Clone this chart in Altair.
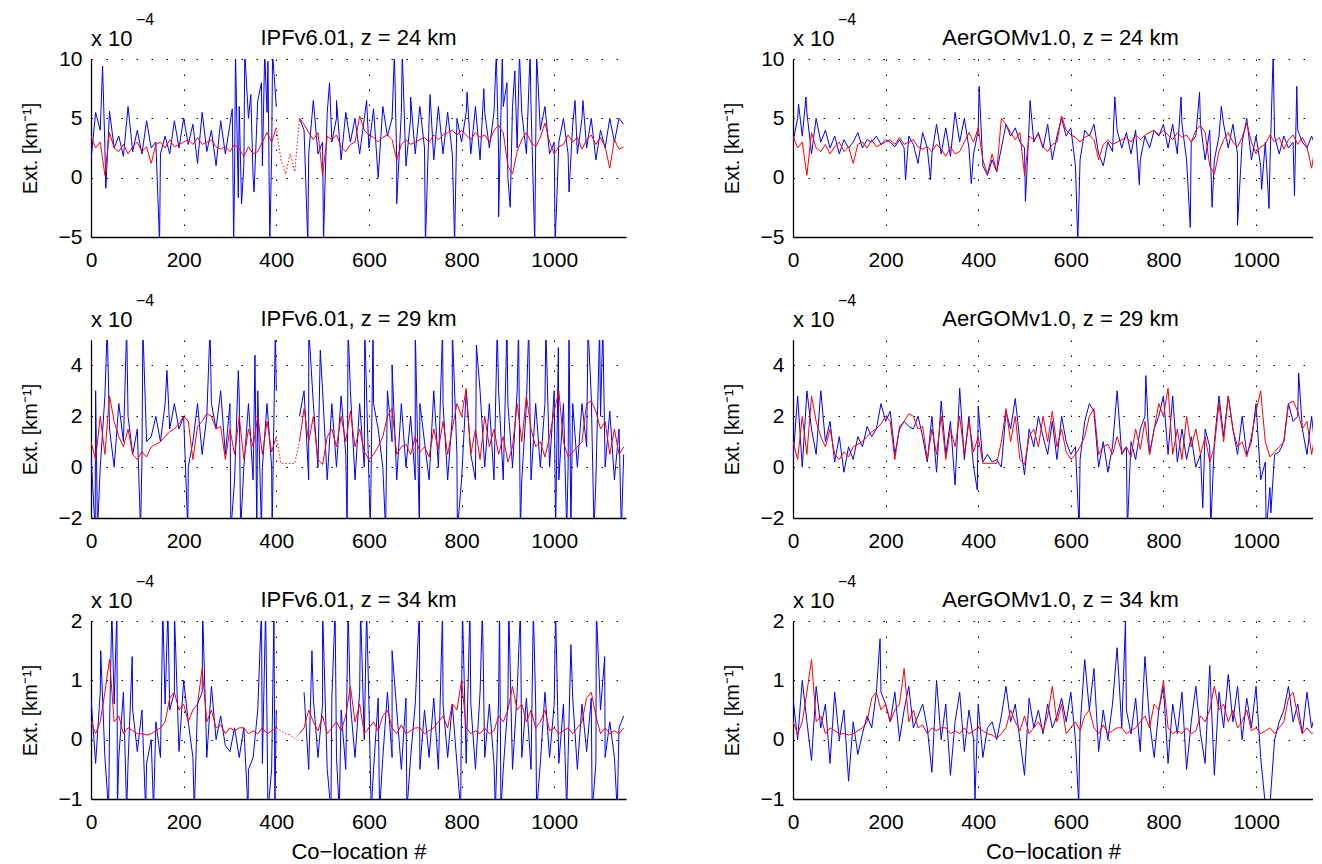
import altair as alt
import pandas as pd

# co-location index of the base samples (every 10th co-location)
idx = list(range(0, 1151, 10))

# reference (red) extinction, x 1e-4 km^-1
red_24 = [3.5, 2.5, 3.0, 0.2, 3.8, 2.5, 2.2, 2.8, 2.0, 2.6,
          3.0, 2.2, 2.6, 1.2, 2.8, 3.0, 2.5, 3.2, 2.6, 2.8,
          3.0, 3.2, 2.8, 3.4, 2.8, 3.0, 3.2, 2.6, 2.4, 2.6,
          2.2, 2.8, 2.4, 1.8, 2.6, 2.0, 2.2, 3.0, 3.8, 3.0,
          4.2, 1.5, 0.3, 2.0, 0.5, 5.0, 4.5, 3.8, 3.2, 3.8,
          0.2, 3.5, 3.2, 3.6, 2.6, 2.2, 2.8, 3.0, 5.2, 4.0,
          3.6, 3.4, 3.0, 3.4, 3.6, 3.2, 1.5, 2.8, 3.2, 2.8,
          3.0, 3.2, 3.4, 3.0, 3.6, 3.2, 3.6, 3.8, 4.0, 3.6,
          4.0, 3.6, 3.2, 3.8, 3.4, 3.6, 3.0, 4.0, 4.4, 3.8,
          1.0, 0.3, 2.2, 3.2, 3.8, 3.0, 2.6, 3.4, 4.6, 3.0,
          2.0, 2.6, 2.8, 3.6, 3.0, 3.4, 2.4, 3.2, 3.6, 2.8,
          3.4, 2.6, 0.8, 3.2, 2.4, 2.6]
red_29 = [1.0, 0.3, 2.0, 0.5, 2.8, 1.8, 1.2, 0.8, 1.5, 0.5,
          0.3, 0.6, 0.4, 0.8, 0.9, 1.0, 1.2, 1.4, 1.5, 1.7,
          2.0, 1.8, 0.3, 1.6, 1.8, 2.1, 2.0, 1.5, 1.6, 0.3,
          1.5, 0.5, 2.0, 0.3, 1.5, 0.8, 2.0, 0.5, 1.8, 0.6,
          1.2, 0.15, 0.15, 0.15, 0.15, 1.0, 2.3, 1.0, 2.0, 0.3,
          0.1, 1.2, 1.5, 0.8, 2.0, 1.0, 2.2, 0.8, 1.5, 0.6,
          0.3, 0.5, 0.8, 1.2, 2.0, 2.3, 0.5, 0.8, 0.9, 0.5,
          1.2, 0.6, 0.8, 0.4, 1.5, 0.7, 1.8, 0.5, 1.5, 2.5,
          2.0, 3.1, 0.5, 1.5, 0.3, 2.0, 0.8, 1.5, 0.5, 1.2,
          0.2, 0.8, 2.5, 1.0, 2.8, 1.5, 0.8, 1.0, 0.4, 1.2,
          2.2, 3.0, 1.0, 0.4, 0.6, 0.8, 1.0, 2.5, 2.6, 2.2,
          1.5, 1.8, 0.5, 1.5, 0.5, 0.8]
red_34 = [0.3, 0.1, 0.3, 0.8, 1.35, 0.3, 0.4, 0.1, 0.2, 0.15,
          0.1, 0.1, 0.08, 0.1, 0.15, 0.2, 0.3, 0.7, 0.8, 0.5,
          0.6, 0.3, 0.5, 0.6, 1.2, 0.3, 0.5, 0.2, 0.25, 0.1,
          0.2, 0.15, 0.2, 0.2, 0.1, 0.15, 0.1, 0.2, 0.1, 0.15,
          0.2, 0.15, 0.1, 0.08, 0.02, 0.1, 0.2, 0.5, 0.3, 0.15,
          0.4, 0.1, 0.2, 0.3, 0.15, 0.4, 0.9, 0.3, 0.6, 0.1,
          0.2, 0.3, 0.15, 0.4, 0.5, 0.2, 0.1, 0.25, 0.1, 0.15,
          0.2, 0.2, 0.1, 0.15, 0.2, 0.3, 0.4, 0.2, 0.6, 0.5,
          1.0, 0.2, 0.1, 0.15, 0.1, 0.2, 0.1, 0.15, 0.4, 0.3,
          0.5, 0.9, 0.5, 0.6, 0.3, 0.5, 0.2, 0.3, 0.5, 0.15,
          0.2, 0.1, 0.15, 0.2, 0.1, 0.2, 0.3, 0.7, 0.8, 0.4,
          0.1, 0.2, 0.1, 0.15, 0.1, 0.2]

# IPFv6.01 (blue): base samples (None = no retrieval) and isolated spikes
ipf_24 = [1.5, 5.5, 4.0, 2.5, 5.6, 2.5, 3.5, 1.8, 6.0, 2.2,
          4.0, 2.0, 4.8, 2.5, 3.0, 2.0, 3.5, 2.0, 4.8, 2.5,
          5.0, 2.8, 4.5, 1.2, 5.5, 2.2, 4.0, 1.0, 4.8, 2.0,
          4.5, 0.5, 6.0, 1.0, 5.0, 0.0, 6.5, 1.0, 5.5, 2.0,
          6.0, None, None, None, None, 5.0, 4.0, 2.0, 6.5, 2.0,
          3.0, 5.5, 3.0, 5.0, 1.5, 5.5, 3.0, 5.0, 2.0, 5.0,
          2.5, 5.8, 0.0, 6.0, 3.5, 5.0, 1.5, 5.5, 1.0, 5.0,
          2.0, 6.0, 2.5, 5.0, 1.5, 6.0, 2.0, 5.5, 2.0, 5.0,
          3.0, 5.5, 2.0, 6.0, 1.5, 5.5, 2.5, 5.5, 2.0, 6.0,
          0.0, 6.0, 2.5, 5.5, 2.0, 6.0, 2.5, 4.0, 6.0, 2.0,
          3.0, 3.0, 5.0, 2.0, 4.5, 2.0, 5.0, 2.5, 5.0, 1.5,
          4.0, 2.5, 5.0, 3.0, 5.0, 4.5]
ipf_24_spk_x = [25, 32, 148, 305, 308, 312, 318, 325, 332, 345, 352, 368, 375, 382,
                386, 392, 468, 502, 505, 515, 530, 595, 655, 660, 672, 690, 722, 732,
                785, 812, 848, 875, 880, 888, 898, 905, 915, 925, 948, 958, 962, 1002,
                1006, 1032, 1045, 1062]
ipf_24_spk_y = [9.4, -0.9, -5.5, 5.8, -5.5, 10.5, -1.7, -2.2, 10.5, 7.0, -1.2, 8.0, 10.5, 9.8,
                -5.5, 10.5, -5.5, -5.5, -0.8, 8.0, 6.5, 6.5, 10.5, -2.2, 10.5, 6.8, -5.5, 7.0,
                -5.5, 7.2, 7.5, 10.5, -3.3, 10.5, 8.0, -2.5, 9.0, 10.5, 10.5, -5.5, 10.5, -5.5,
                -1.5, -1.2, 6.5, 6.5]

ipf_29 = [0.5, 3.0, 0.0, 2.8, 1.5, 0.0, 2.5, 1.0, 2.0, 0.5,
          1.5, 0.3, 1.0, 1.2, 2.0, 1.0, 2.5, 1.5, 2.5, 1.5,
          2.0, 0.0, 1.0, 2.5, 0.5, 2.0, 2.5, 1.5, 3.0, 0.5,
          2.5, -0.5, 2.8, 0.0, 2.5, -0.5, 3.0, 0.0, 2.5, 0.0,
          3.0, None, None, None, None, 2.0, 3.0, -0.5, 2.5, 0.0,
          3.0, -0.5, 2.5, 0.0, 2.8, 0.5, 3.0, -0.5, 2.5, 0.0,
          -0.5, 2.5, 1.5, 0.0, 3.0, 1.0, -0.5, 2.5, 0.0, 2.0,
          -0.5, 2.5, 1.0, -0.5, 3.0, 0.0, 2.5, -0.5, 2.0, 0.5,
          -0.5, 3.0, 0.5, -0.5, 3.0, 0.0, 2.5, -0.5, 3.0, -0.5,
          2.5, 0.0, 3.0, -0.5, 2.5, -0.5, 2.5, 0.0, 2.5, 0.0,
          3.0, -0.5, 2.5, 0.0, 2.5, 0.0, 2.5, 0.8, 2.8, -0.5,
          2.0, 0.0, 2.2, -0.5, 1.5, 0.5]
ipf_29_spk_x = [9, 14, 35, 77, 107, 112, 164, 209, 257, 302, 318, 323, 354, 358, 368,
                391, 398, 470, 495, 553, 555, 591, 603, 609, 636, 650, 700, 709, 759,
                780, 791, 832, 877, 898, 923, 927, 945, 982, 1003, 1009, 1027, 1032,
                1036, 1073, 1086, 1098, 1105, 1145]
ipf_29_spk_y = [-2.5, -2.5, 5.5, 5.5, -2.5, 5.5, 3.8, -2.5, 5.5, -2.5, 3.8, -2.5, 4.4, -2.5, -2.5,
                -2.5, 5.5, 5.5, 4.6, -2.5, 5.5, 5.5, -2.5, 5.5, -2.5, 4.0, 5.5, -2.5, 5.5,
                5.5, -2.5, 4.8, 5.5, 5.5, 5.5, -2.5, 5.5, 5.5, -2.5, 4.7, -2.5, 5.5,
                -2.5, 5.5, -2.5, 5.5, 5.5, -2.5]

ipf_34 = [0.7, -0.4, 0.8, -0.3, 0.2, 0.6, -0.3, 0.8, -0.4, 0.5,
          -0.2, 0.5, -0.4, 0.0, 0.3, -0.3, 0.6, 0.5, 0.8, -0.2,
          1.0, 0.3, -0.3, 0.6, 0.8, -0.3, 0.9, 0.0, 0.4, -0.1,
          -0.2, 0.2, -0.3, 0.2, -0.5, -0.3, 0.5, -0.4, 0.3, -0.5,
          0.5, None, None, None, None, None, 0.8, -0.5, 0.7, -0.3,
          0.6, -0.5, 0.7, -0.3, 0.5, -0.5, 0.6, -0.3, 0.8, 0.0,
          0.6, -0.5, 0.7, -0.3, 0.8, -0.3, 0.5, -0.5, 0.7, -0.3,
          0.6, -0.5, 0.5, -0.3, 0.7, -0.5, 0.6, -0.3, 0.6, -0.4,
          0.7, -0.4, 0.6, -0.5, 0.8, -0.3, 0.6, -0.4, 0.7, -0.5,
          0.6, -0.5, 0.8, -0.3, 0.7, -0.5, 0.6, -0.4, 0.8, -0.3,
          0.6, -0.4, 0.6, -0.3, 0.7, -0.5, 0.6, -0.2, 0.7, -0.4,
          0.5, -0.3, 0.3, -0.3, 0.2, 0.4]
ipf_34_spk_x = [21, 38, 45, 56, 57, 77, 89, 118, 135, 155, 166, 180, 223, 241, 339, 368,
                377, 382, 395, 397, 477, 500, 518, 527, 536, 555, 582, 595, 605, 623,
                650, 682, 709, 759, 798, 802, 818, 845, 873, 882, 885, 902, 927, 955,
                962, 1003, 1027, 1036, 1082, 1091, 1109, 1136]
ipf_34_spk_y = [1.5, -1.2, 2.2, 2.2, -1.2, -1.2, 1.4, -1.2, -1.2, 2.2, 2.2, 2.2, -1.2, 2.2, -1.2, 2.2,
                2.2, -1.2, 2.2, -1.2, 1.5, 2.2, -1.2, 2.2, -1.2, 2.2, 2.2, 2.2, -1.2, -1.2,
                1.5, -1.2, 2.2, 2.2, -1.2, 2.2, 2.2, 2.2, -1.2, 2.2, -1.2, 2.2, 2.2, 2.2,
                -1.2, 2.2, -1.2, 1.6, -1.2, 2.2, 1.4, -1.2]

# AerGOMv1.0 (blue): base samples and isolated spikes
aer_24 = [3.0, 5.0, 3.5, 5.5, 2.0, 5.0, 3.0, 4.0, 2.5, 3.5,
          2.0, 3.2, 2.5, 3.0, 3.8, 2.5, 3.2, 3.0, 3.5, 2.8,
          3.2, 3.0, 2.6, 3.2, 2.5, 3.5, 2.8, 1.2, 3.8, 2.5,
          2.0, 4.5, 2.0, 4.2, 1.8, 5.5, 3.0, 5.0, 2.5, 2.0,
          4.0, 1.0, 0.2, 1.5, 0.5, 2.5, 4.5, 3.5, 4.2, 3.0,
          2.5, 4.5, 3.0, 3.8, 2.5, 4.5, 1.5, 3.5, 5.0, 3.5,
          4.2, 1.0, 1.5, 4.0, 3.5, 4.5, 2.0, 1.0, 3.0, 2.2,
          4.0, 2.5, 3.8, 2.0, 4.0, 1.5, 3.5, 2.5, 4.0, 3.5,
          4.5, 2.5, 4.5, 2.0, 4.5, 1.5, 3.0, 3.5, 4.5, 1.5,
          4.0, 1.5, 3.5, 4.5, 2.5, 4.5, 2.0, 3.0, 5.0, 1.5,
          3.5, 1.0, 3.0, 1.0, 3.5, 2.0, 3.5, 2.5, 3.0, 4.0,
          3.0, 2.5, 3.5, 2.5, 3.0, 3.0]
aer_24_spk_x = [12, 28, 243, 297, 385, 402, 502, 512, 615, 695, 748, 838, 858, 878, 905,
                925, 960, 1012, 1028, 1037, 1083, 1088]
aer_24_spk_y = [6.2, 6.8, -0.2, -0.2, -0.5, 7.7, -2.0, 6.5, -5.5, 6.8, -0.6, 6.8, -4.2, 7.2, -2.5,
                6.0, -4.0, -1.0, -2.6, 10.5, -1.5, 7.7]

aer_29 = [0.3, 2.8, 0.0, 3.0, 1.5, 0.5, 3.0, 1.0, 1.8, 0.2,
          1.2, -0.2, 0.8, 0.3, 1.2, 0.8, 1.6, 1.2, 1.5, 2.5,
          1.8, 2.2, 0.5, 1.5, 1.8, 1.6, 1.5, 2.0, 1.2, 0.2,
          2.0, -0.2, 2.6, 0.5, 1.8, -0.7, 3.1, 0.3, 2.0, 0.0,
          2.4, 0.2, 0.5, 0.2, 0.3, 0.0, 2.2, 1.5, 2.7, 1.0,
          -0.3, 1.5, 0.8, 2.0, 1.2, 0.5, 1.8, 0.3, 2.0, 1.0,
          0.5, 0.8, 0.3, 1.8, 2.5, 2.2, 0.0, 1.0, -0.2, 0.8,
          3.0, 0.5, 0.8, 1.0, 0.3, 1.5, 2.0, 0.5, 1.5, 2.0,
          2.8, 0.5, 2.8, 0.2, 1.5, 0.3, 1.2, 0.0, 0.5, 1.5,
          0.8, 1.0, 2.8, 1.2, 2.8, 1.5, 0.5, 2.0, 0.5, 1.0,
          2.5, -0.5, 0.2, -0.8, 0.5, 0.6, 1.0, 2.5, 1.8, 2.0,
          1.5, 0.5, 2.0, 0.3, 1.5, 0.5]
aer_29_spk_x = [398, 618, 722, 762, 885, 902, 1022, 1032, 1092]
aer_29_spk_y = [-0.9, -2.5, -2.5, 3.6, -1.6, -2.5, -2.5, -1.8, 3.7]

aer_34 = [0.7, 0.0, 1.0, 0.3, -0.35, 0.9, 0.2, 0.6, -0.4, 0.8,
          0.0, 0.5, -0.7, 0.3, -0.25, 0.1, 0.4, 0.2, 0.8, 0.8,
          0.6, 0.3, 0.8, 0.0, 0.5, 0.9, 0.2, 0.4, 0.6, 0.2,
          -0.55, 1.0, 0.0, 0.6, -0.6, 0.3, 0.8, -0.2, 0.5, 0.0,
          0.6, -0.3, 0.2, 0.3, 0.0, 0.4, 0.9, 0.3, 0.6, 0.0,
          -0.6, 0.7, 0.2, 0.5, 0.1, 0.6, 0.2, 0.4, 0.7, 0.3,
          0.8, 0.0, 0.2, 1.35, 0.5, 1.2, -0.2, 0.5, 0.0, 0.6,
          1.55, 0.2, 0.5, 0.1, 0.7, -0.2, 1.4, 0.3, -0.3, 0.5,
          0.9, -0.4, 0.6, 0.1, 0.8, -0.5, 0.3, 0.9, 0.1, -0.4,
          1.25, -0.6, 0.8, 0.2, 1.1, 0.3, 0.9, 0.0, 0.7, 0.2,
          0.9, -0.3, -1.1, -1.1, 0.0, 0.3, 0.5, 0.9, 0.3, 0.6,
          0.1, 0.8, 0.2, 0.5, 0.1, 0.3]
aer_34_spk_x = [188, 393, 617, 718]
aer_34_spk_y = [1.7, -1.0, -1.1, 2.0]

altitudes = ["24", "29", "34"]
y_domains = [[-5, 10], [-2, 5], [-1, 2]]
y_ticks = [[-5, 0, 5, 10], [-2, 0, 2, 4], [-1, 0, 1, 2]]
x_ticks = [0, 200, 400, 600, 800, 1000]
reds = [red_24, red_29, red_34]
ipfs = [(ipf_24, ipf_24_spk_x, ipf_24_spk_y),
        (ipf_29, ipf_29_spk_x, ipf_29_spk_y),
        (ipf_34, ipf_34_spk_x, ipf_34_spk_y)]
aers = [(aer_24, aer_24_spk_x, aer_24_spk_y),
        (aer_29, aer_29_spk_x, aer_29_spk_y),
        (aer_34, aer_34_spk_x, aer_34_spk_y)]

FONT = "Liberation Sans"
BLUE = "#0000ff"
RED = "#ff0000"
GAP = (400, 450)


def blue_frame(base, sx, sy):
    pts = [(xv, yv) for xv, yv in zip(idx, base)] + list(zip(sx, sy))
    pts.sort(key=lambda p: p[0])
    rows, seg = [], 0
    for xv, yv in pts:
        if yv is None:
            seg += 1
            continue
        rows.append({"x": xv, "y": yv, "seg": seg, "o": len(rows)})
    return pd.DataFrame(rows)


def text_layer(txt, x, y, size, align):
    return (alt.Chart(pd.DataFrame({"t": [txt]}))
            .mark_text(align=align, baseline="alphabetic", font=FONT,
                       fontSize=size, color="black")
            .encode(x=alt.value(x), y=alt.value(y), text="t:N"))


def panel(name, alt_km, blue, red, ydom, yticks, left, bottom):
    xmax = 1155 if left else 1123
    w = 535 if left else 520
    xs = alt.Scale(domain=[0, xmax], nice=False, zero=False)
    ys = alt.Scale(domain=ydom, nice=False, zero=False)
    xaxis = alt.Axis(values=x_ticks, format="d",
                     title="Co\u2212location #" if bottom else "",
                     labelPadding=12, titlePadding=9, titleFontSize=22)
    yaxis = alt.Axis(values=yticks, title="Ext. [km\u207b\u00b9]",
                     labelPadding=9, titlePadding=18)
    enc = dict(x=alt.X("x:Q", scale=xs, axis=xaxis),
               y=alt.Y("y:Q", scale=ys, axis=yaxis))

    dfb = blue_frame(*blue)
    layers = [alt.Chart(dfb).mark_line(color=BLUE, strokeWidth=1, clip=True)
              .encode(detail="seg:N", order="o:Q", **enc)]

    dfr = pd.DataFrame({"x": idx, "y": red})
    if left:
        solid = dfr[(dfr.x <= GAP[0]) | (dfr.x >= GAP[1])].copy()
        solid["seg"] = (solid.x >= GAP[1]).astype(int)
        dotted = dfr[(dfr.x >= GAP[0]) & (dfr.x <= GAP[1])]
        layers.append(alt.Chart(solid).mark_line(color=RED, strokeWidth=1, clip=True)
                      .encode(detail="seg:N", **enc))
        layers.append(alt.Chart(dotted).mark_line(color=RED, strokeWidth=1,
                                                  strokeDash=[1.5, 2], clip=True)
                      .encode(**enc))
    else:
        layers.append(alt.Chart(dfr).mark_line(color=RED, strokeWidth=1, clip=True)
                      .encode(**enc))

    layers.append(text_layer(f"{name}, z = {alt_km} km", 267.5, -14, 22, "center"))
    layers.append(text_layer("x 10", 0, -13, 22, "left"))
    layers.append(text_layer("\u22124", 45, -34, 16, "left"))

    return alt.layer(*layers).properties(width=w, height=178)


panels = []
for i in range(3):
    last = i == 2
    panels.append(panel("IPFv6.01", altitudes[i], ipfs[i], reds[i],
                        y_domains[i], y_ticks[i], True, last))
    panels.append(panel("AerGOMv1.0", altitudes[i], aers[i], reds[i],
                        y_domains[i], y_ticks[i], False, last))

chart = (
    alt.concat(*panels, columns=2, bounds="flush",
               spacing=alt.RowColnumber(row=103, column=167))
    .properties(padding={"left": 12, "top": 4, "right": 0, "bottom": 0})
    .configure_view(strokeWidth=0)
    .configure_axis(
        domainColor="black", domainWidth=1.3,
        grid=True, gridColor="black", gridDash=[1.5, 13.5], gridWidth=1, gridOpacity=1,
        ticks=False, labelFlush=False,
        labelFont=FONT, labelFontSize=21, labelColor="black",
        titleFont=FONT, titleFontSize=20, titleFontWeight="normal", titleColor="black",
    )
)

chart.save("out.html", embed_options={"renderer": "svg", "actions": False})
